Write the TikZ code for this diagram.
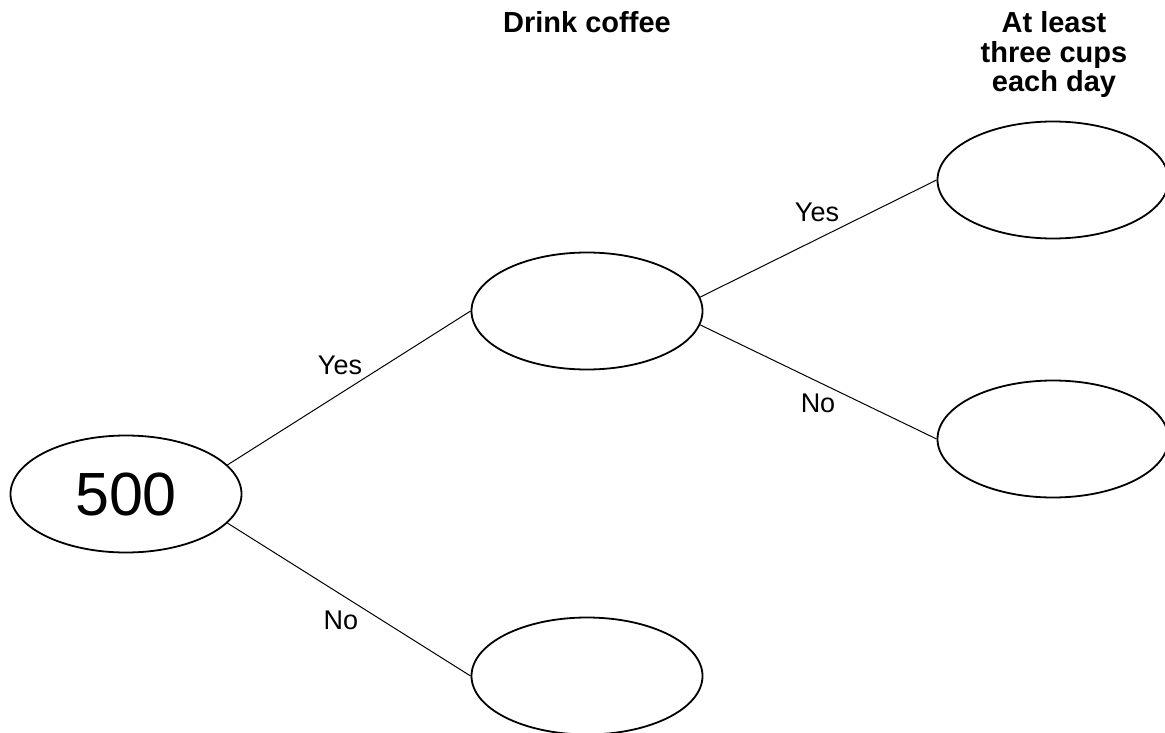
\documentclass[tikz,border=0pt]{standalone}
\usepackage{fontspec}
\setmainfont{Liberation Sans}
\usetikzlibrary{shapes.geometric}

\begin{document}
\begin{tikzpicture}[x=1pt,y=-1pt,
		oval/.style={draw,ellipse,line width=1.8pt,minimum width=231pt,minimum height=117pt,inner sep=0pt},
		branch/.style={line width=1pt},
		ans/.style={font=\fontsize{27}{27}\selectfont},
		head/.style={font=\bfseries\fontsize{29}{29.5}\selectfont,align=center}]

			\useasboundingbox (0,0) rectangle (1165,733);

			% first split
			\node [oval,font=\fontsize{61}{61}\selectfont] (start) at (126,494) {500};
			\node [oval] (yes) at (587,311) {};
			\node [oval] (no) at (587,676) {};
			\draw [branch] (start.16) -- (yes.west);
			\draw [branch] (start.-16) -- (no.west);

			% second split
			\node [oval] (yesyes) at (1053,180) {};
			\node [oval] (yesno) at (1053,439) {};
			\draw [branch] (yes.7) -- (yesyes.west);
			\draw [branch] (yes.-7) -- (yesno.west);

			\foreach \x/\y/\t/\n in {340/365/Yes/a,341/620/No/b,817/212/Yes/c,818/403/No/d} {
					\node [ans] (ans\n) at (\x,\y) {\t};
				}

			\node [head] (coffee) at (587,22.5) {Drink coffee};
			\node [head] (cups) at (1054,55) {At least\\three cups\\each day};
		\end{tikzpicture}
\end{document}
